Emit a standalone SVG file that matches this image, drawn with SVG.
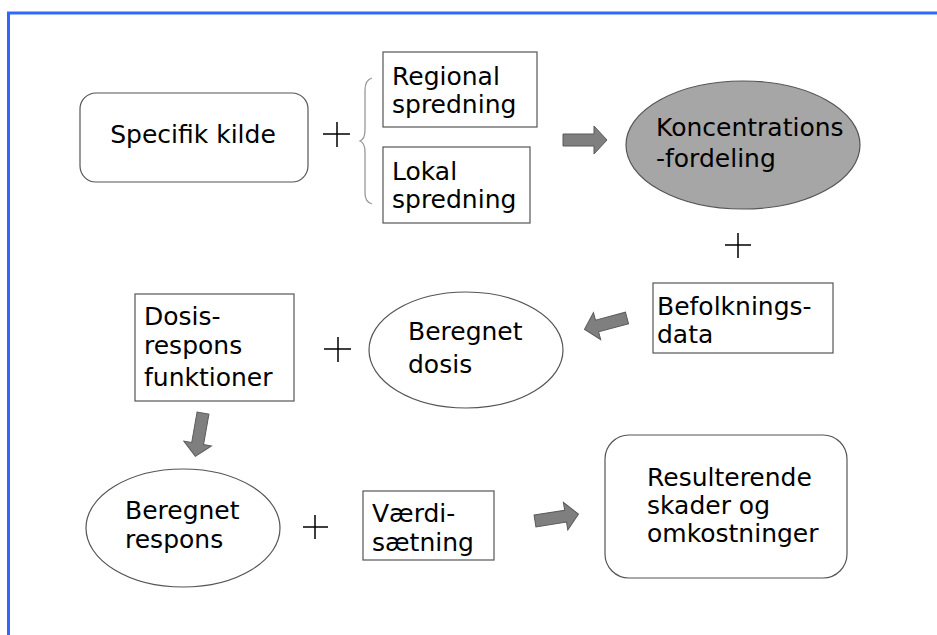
<svg xmlns="http://www.w3.org/2000/svg" width="937" height="635" viewBox="0 0 937 635">
<style>
  .t { font-family: "Comic Sans MS", "DejaVu Sans", sans-serif; font-size: 25px; fill: #000; }
  .box { fill: #fff; stroke: #555; stroke-width: 1.2; }
  .ell { fill: #fff; stroke: #555; stroke-width: 1.2; }
  .ellg { fill: #a6a6a6; stroke: #555; stroke-width: 1.2; }
  .plus { stroke: #000; stroke-width: 1.5; fill: none; }
  .brace { stroke: #999; stroke-width: 1.3; fill: none; }
  .arr { fill: #7f7f7f; stroke: #5a5a5a; stroke-width: 1; }
  .frame { stroke: #3366ff; stroke-width: 3; fill: none; }
</style>
<defs>
  <path id="arrow" d="M0,-6 L31,-6 L31,-14 L44,0 L31,14 L31,6 L0,6 Z"/>
</defs>
<rect width="937" height="635" fill="#fff"/>
<path class="frame" d="M8.5,635 L8.5,13 L937,13"/>

<g id="connectors">
  <use href="#arrow" class="arr" transform="translate(563,140)"/>
  <use href="#arrow" class="arr" transform="translate(627,318) rotate(165)"/>
  <use href="#arrow" class="arr" transform="translate(203,413) rotate(100)"/>
  <use href="#arrow" class="arr" transform="translate(535,521) rotate(-9)"/>
</g>

<g id="operators">
  <path class="plus" d="M323,134 H350 M337,122 V147"/>
  <path class="brace" d="M372,78 Q365,80 365,90 L365,130 Q365,139 360,141 Q365,143 365,152 L365,193 Q365,202 372,204"/>
  <path class="plus" d="M725,245 H751 M738,233 V258"/>
  <path class="plus" d="M324,349 H351 M338,337 V362"/>
  <path class="plus" d="M303,527 H328 M315,515 V539"/>
</g>

<g id="specifik-kilde">
  <rect class="box" x="80" y="93" width="228" height="89" rx="16"/>
  <text class="t" x="193" y="143" text-anchor="middle">Specifik kilde</text>
</g>

<g id="regional-spredning">
  <rect class="box" x="383" y="52" width="154" height="75"/>
  <text class="t" x="392" y="85">Regional</text>
  <text class="t" x="392" y="113">spredning</text>
</g>

<g id="lokal-spredning">
  <rect class="box" x="383" y="147" width="147" height="76"/>
  <text class="t" x="392" y="180">Lokal</text>
  <text class="t" x="392" y="208">spredning</text>
</g>

<g id="koncentrationsfordeling">
  <ellipse class="ellg" cx="743" cy="145" rx="117" ry="64"/>
  <text class="t" x="656" y="136">Koncentrations</text>
  <text class="t" x="656" y="167">-fordeling</text>
</g>

<g id="befolkningsdata">
  <rect class="box" x="653" y="283" width="180" height="70"/>
  <text class="t" x="657" y="315">Befolknings-</text>
  <text class="t" x="657" y="343">data</text>
</g>

<g id="beregnet-dosis">
  <ellipse class="ell" cx="466" cy="350" rx="97" ry="58"/>
  <text class="t" x="408" y="340">Beregnet</text>
  <text class="t" x="408" y="373">dosis</text>
</g>

<g id="dosis-respons">
  <rect class="box" x="135" y="294" width="159" height="107"/>
  <text class="t" x="144" y="325">Dosis-</text>
  <text class="t" x="144" y="354">respons</text>
  <text class="t" x="144" y="386">funktioner</text>
</g>

<g id="beregnet-respons">
  <ellipse class="ell" cx="183" cy="528" rx="97" ry="59"/>
  <text class="t" x="125" y="519">Beregnet</text>
  <text class="t" x="125" y="548">respons</text>
</g>

<g id="vaerdisaetning">
  <rect class="box" x="363" y="491" width="131" height="69"/>
  <text class="t" x="372" y="522">Værdi-</text>
  <text class="t" x="372" y="551">sætning</text>
</g>

<g id="resulterende">
  <rect class="box" x="605" y="435" width="242" height="143" rx="24"/>
  <text class="t" x="647" y="486">Resulterende</text>
  <text class="t" x="647" y="514">skader og</text>
  <text class="t" x="647" y="542">omkostninger</text>
</g>
</svg>
